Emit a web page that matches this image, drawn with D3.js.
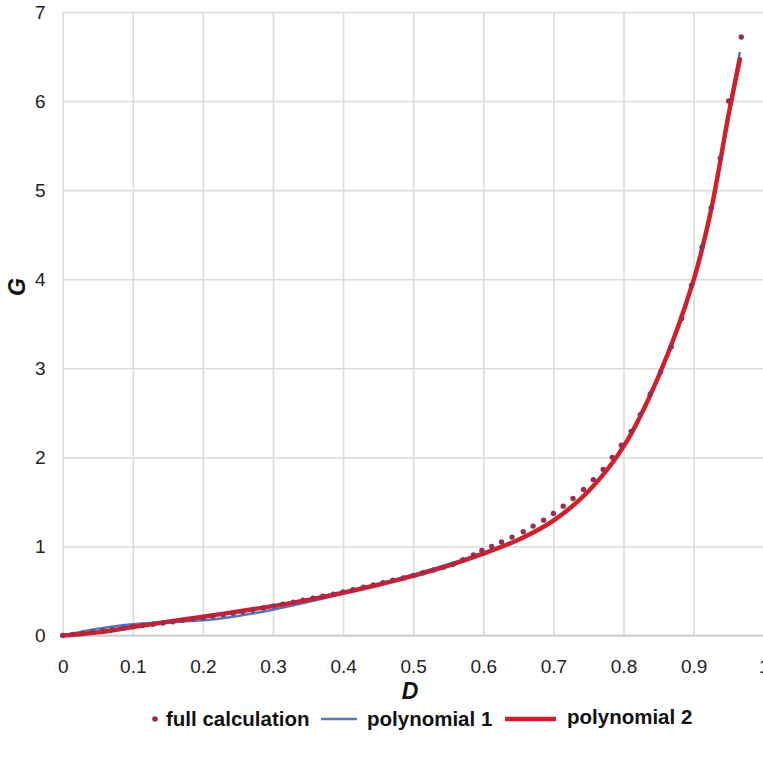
<!DOCTYPE html>
<html>
<head>
<meta charset="utf-8">
<script src="https://cdn.jsdelivr.net/npm/d3@7"></script>
<style>
  body { margin: 0; background: #fff; }
  svg { display: block; font-family: "Liberation Sans", Arial, sans-serif; }
</style>
</head>
<body>
<div id="chart"></div>
<script>
var width = 763
var height = 761

// Data
var xTicks = [0, 0.1, 0.2, 0.3, 0.4, 0.5, 0.6, 0.7, 0.8, 0.9, 1]
var yTicks = [0, 1, 2, 3, 4, 5, 6, 7]

// full calculation (dots)
var calcD = [0, 0.014, 0.029, 0.043, 0.057, 0.071, 0.086, 0.100, 0.114, 0.129, 0.143, 0.157, 0.171, 0.186, 0.200,
  0.214, 0.229, 0.243, 0.257, 0.271, 0.286, 0.300, 0.314, 0.329, 0.343, 0.357, 0.371, 0.386, 0.400, 0.414,
  0.429, 0.443, 0.457, 0.471, 0.486, 0.500, 0.514, 0.529, 0.543, 0.557, 0.571, 0.586, 0.598, 0.612, 0.626,
  0.641, 0.657, 0.671, 0.686, 0.700, 0.714, 0.728, 0.743, 0.757, 0.771, 0.784, 0.797, 0.811, 0.824, 0.838,
  0.853, 0.868, 0.883, 0.897, 0.912, 0.925, 0.938, 0.950, 0.968]
var calcG = [0, 0.012, 0.026, 0.040, 0.054, 0.068, 0.083, 0.098, 0.112, 0.127, 0.141, 0.155, 0.170, 0.185, 0.200,
  0.216, 0.233, 0.250, 0.268, 0.287, 0.308, 0.330, 0.352, 0.374, 0.396, 0.418, 0.441, 0.465, 0.490, 0.515,
  0.541, 0.567, 0.594, 0.620, 0.647, 0.675, 0.705, 0.735, 0.765, 0.800, 0.850, 0.905, 0.955, 1.000, 1.050,
  1.105, 1.165, 1.228, 1.295, 1.370, 1.452, 1.538, 1.639, 1.750, 1.865, 2.000, 2.136, 2.290, 2.480, 2.710,
  2.960, 3.240, 3.560, 3.930, 4.360, 4.800, 5.360, 6.000, 6.720]

// polynomial 1 (thin blue)
var poly1D = [0, 0.025, 0.05, 0.075, 0.1, 0.125, 0.15, 0.2, 0.25, 0.3, 0.35, 0.4, 0.45, 0.5, 0.55, 0.6, 0.65,
  0.7, 0.75, 0.8, 0.85, 0.9, 0.925, 0.95, 0.966]
var poly1G = [0, 0.04, 0.075, 0.105, 0.125, 0.14, 0.15, 0.17, 0.22, 0.29, 0.375, 0.47, 0.575, 0.685, 0.80, 0.93,
  1.08, 1.28, 1.62, 2.12, 2.90, 3.99, 4.79, 5.88, 6.55]

// polynomial 2 (thick red)
var poly2D = [0, 0.025, 0.05, 0.1, 0.15, 0.2, 0.25, 0.3, 0.35, 0.4, 0.45, 0.5, 0.55, 0.6, 0.65, 0.7, 0.75,
  0.8, 0.85, 0.9, 0.925, 0.95, 0.966]
var poly2G = [0, 0.015, 0.035, 0.095, 0.155, 0.21, 0.27, 0.33, 0.40, 0.48, 0.57, 0.67, 0.785, 0.92, 1.075,
  1.29, 1.62, 2.12, 2.91, 3.99, 4.78, 5.85, 6.47]

var svg = d3.select("#chart")
  .append("svg")
  .attr("width", width)
  .attr("height", height)

var x = d3.scaleLinear().domain([0, 1]).range([62.7, 763.7])
var y = d3.scaleLinear().domain([0, 7]).range([635.5, 12])

// grid lines
svg.append("g")
  .attr("transform", "translate(0," + y(0) + ")")
  .call(d3.axisBottom(x).tickValues(xTicks).tickSize(-(y(0) - y(7))).tickFormat(""))
  .call(g => g.select(".domain").remove())
  .call(g => g.selectAll("line").attr("stroke", "#dcdcdc").attr("stroke-width", 1.6))

svg.append("g")
  .attr("transform", "translate(" + x(0) + ",0)")
  .call(d3.axisLeft(y).tickValues(yTicks).tickSize(-(width - x(0))).tickFormat(""))
  .call(g => g.select(".domain").remove())
  .call(g => g.selectAll("line").attr("stroke", "#dcdcdc").attr("stroke-width", 1.6))

// bottom axis line
svg.append("line")
  .attr("x1", x(0)).attr("x2", width)
  .attr("y1", y(0)).attr("y2", y(0))
  .attr("stroke", "#c8c8c8")
  .attr("stroke-width", 1.6)

// tick labels
svg.append("g")
  .attr("transform", "translate(0," + y(0) + ")")
  .call(d3.axisBottom(x).tickValues(xTicks).tickSize(0).tickPadding(24).tickFormat(d3.format("")))
  .call(g => g.select(".domain").remove())
  .call(g => g.selectAll("text")
    .attr("font-family", "Liberation Sans, Arial, sans-serif")
    .attr("font-size", "19px")
    .attr("fill", "#222"))

svg.append("g")
  .attr("transform", "translate(" + x(0) + ",0)")
  .call(d3.axisLeft(y).tickValues(yTicks).tickSize(0).tickPadding(17).tickFormat(d3.format("d")))
  .call(g => g.select(".domain").remove())
  .call(g => g.selectAll("text")
    .attr("font-family", "Liberation Sans, Arial, sans-serif")
    .attr("font-size", "19px")
    .attr("fill", "#222"))

// axis titles
svg.append("text")
  .attr("x", 410)
  .attr("y", 699)
  .attr("text-anchor", "middle")
  .style("font-size", "23px")
  .style("font-weight", "700")
  .style("font-style", "italic")
  .attr("fill", "#111")
  .text("D")

svg.append("text")
  .attr("transform", "translate(25,287) rotate(-90)")
  .attr("text-anchor", "middle")
  .style("font-size", "23px")
  .style("font-weight", "700")
  .style("font-style", "italic")
  .attr("fill", "#111")
  .text("G")

// curves
var line = d3.line()
  .x(d => x(d[0]))
  .y(d => y(d[1]))
  .curve(d3.curveCatmullRom.alpha(0.5))

svg.append("path")
  .datum(poly1D.map((d, i) => [d, poly1G[i]]))
  .attr("d", line)
  .attr("fill", "none")
  .attr("stroke", "#5577bb")
  .attr("stroke-width", 2.5)

svg.append("path")
  .datum(poly2D.map((d, i) => [d, poly2G[i]]))
  .attr("d", line)
  .attr("fill", "none")
  .attr("stroke", "#d0212b")
  .attr("stroke-width", 4.5)
  .attr("stroke-linecap", "round")

svg.append("g")
  .selectAll("circle")
  .data(calcD.map((d, i) => [d, calcG[i]]))
  .join("circle")
  .attr("cx", d => x(d[0]))
  .attr("cy", d => y(d[1]))
  .attr("r", 2.7)
  .attr("fill", "#9a2d52")

// legend
var legend = svg.append("g")
  .style("font-size", "20.5px")
  .style("font-weight", "700")
  .attr("fill", "#111")

legend.append("circle").attr("cx", 155).attr("cy", 719).attr("r", 2.8).attr("fill", "#9a2d52")
legend.append("text").attr("x", 166).attr("y", 726).text("full calculation")
legend.append("line").attr("x1", 321).attr("x2", 357).attr("y1", 719).attr("y2", 719)
  .attr("stroke", "#5577bb").attr("stroke-width", 2.5)
legend.append("text").attr("x", 367).attr("y", 726).text("polynomial 1")
legend.append("line").attr("x1", 505).attr("x2", 556).attr("y1", 719).attr("y2", 719)
  .attr("stroke", "#d0212b").attr("stroke-width", 4.5)
legend.append("text").attr("x", 567).attr("y", 724).text("polynomial 2")
</script>
</body>
</html>
